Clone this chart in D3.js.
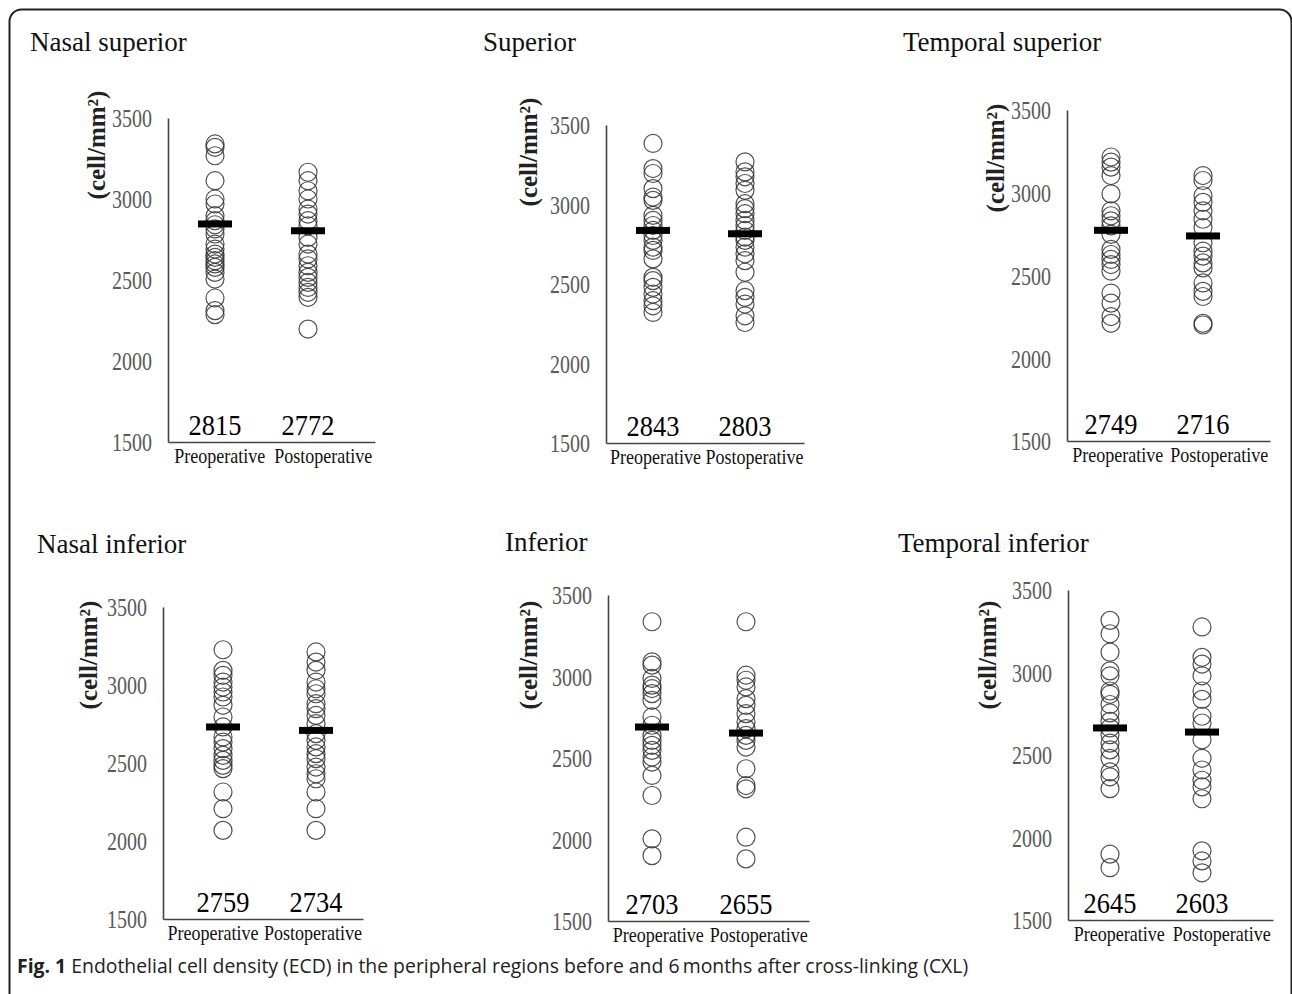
<!DOCTYPE html>
<html>
<head>
<meta charset="utf-8">
<script src="https://cdn.jsdelivr.net/npm/d3@7"></script>
<style>
  body { margin: 0; background: #fff; }
  svg { display: block; }
</style>
</head>
<body>
<svg id="chart" width="1292" height="994"></svg>
<script>
// ECD before / after CXL, six peripheral regions

const categories = ["Preoperative", "Postoperative"];
const regions = ["Nasal superior", "Superior", "Temporal superior",
                 "Nasal inferior", "Inferior", "Temporal inferior"];
const yTicks = [1500, 2000, 2500, 3000, 3500];

// printed means under each column
const meanLabels = [[2815, 2772], [2843, 2803], [2749, 2716],
                    [2759, 2734], [2703, 2655], [2645, 2603]];
// where the thick mean bar sits
const meanBars = [[2846, 2804], [2837, 2816], [2773, 2739],
                  [2731, 2709], [2690, 2653], [2664, 2639]];

// individual eyes, cell/mm2
const nasalSupPre = [3340, 3319, 3267, 3113, 3000, 2969, 2897, 2866, 2841, 2815, 2784, 2722,
  2691, 2660, 2640, 2619, 2599, 2578, 2547, 2506, 2389, 2311, 2286];
const nasalSupPost = [3165, 3113, 3051, 3000, 2938, 2907, 2866, 2835, 2763, 2722, 2660, 2630,
  2588, 2547, 2516, 2485, 2454, 2424, 2393, 2197];
const superiorPre = [3384, 3226, 3195, 3100, 3047, 3026, 2932, 2900, 2868, 2837, 2805, 2774,
  2732, 2711, 2658, 2542, 2521, 2479, 2437, 2395, 2363, 2321];
const superiorPost = [3268, 3205, 3174, 3132, 3089, 3005, 2974, 2942, 2900, 2868, 2837, 2795,
  2774, 2732, 2690, 2647, 2574, 2458, 2416, 2374, 2300, 2258];
const tempSupPre = [3216, 3185, 3155, 3104, 2993, 2891, 2861, 2830, 2800, 2749, 2658, 2627,
  2597, 2566, 2526, 2394, 2333, 2252, 2211];
const tempSupPost = [3104, 3074, 2982, 2942, 2891, 2840, 2790, 2698, 2647, 2617, 2576, 2546,
  2455, 2404, 2373, 2211, 2201];
const nasalInfPre = [3226, 3094, 3062, 3019, 2987, 2955, 2923, 2870, 2795, 2731, 2667, 2634,
  2592, 2549, 2517, 2485, 2464, 2314, 2207, 2068];
const nasalInfPost = [3212, 3147, 3094, 3019, 2976, 2944, 2880, 2848, 2805, 2752, 2688, 2645,
  2603, 2560, 2528, 2474, 2431, 2399, 2314, 2207, 2068];
const inferiorPre = [3336, 3090, 3070, 2988, 2947, 2926, 2895, 2854, 2752, 2701, 2639, 2608,
  2578, 2547, 2506, 2475, 2393, 2270, 2004, 1901];
const inferiorPost = [3336, 3008, 2977, 2936, 2864, 2823, 2772, 2721, 2680, 2639, 2608, 2567,
  2434, 2331, 2311, 2014, 1881];
const tempInfPre = [3316, 3235, 3123, 3010, 2980, 2888, 2868, 2806, 2755, 2704, 2664, 2623,
  2572, 2531, 2480, 2398, 2368, 2296, 1899, 1817];
const tempInfPost = [3276, 3092, 3051, 2980, 2888, 2837, 2735, 2694, 2592, 2480, 2409, 2347,
  2307, 2235, 1919, 1858, 1786];

const series = [
  [nasalSupPre, nasalSupPost], [superiorPre, superiorPost], [tempSupPre, tempSupPost],
  [nasalInfPre, nasalInfPost], [inferiorPre, inferiorPost], [tempInfPre, tempInfPost]
];

// panel placement (pixels)
const layout = [
  { x0: 168,  x1: 375,  top: 118, bot: 442, cx: [215, 308],   tx: 30,  ty: 51,  lx: 96,  ly: 145 },
  { x0: 606,  x1: 804,  top: 125, bot: 443, cx: [653, 745],   tx: 483, ty: 51,  lx: 528, ly: 152 },
  { x0: 1067, x1: 1270, top: 110, bot: 441, cx: [1111, 1203], tx: 903, ty: 51,  lx: 995, ly: 158 },
  { x0: 163,  x1: 363,  top: 607, bot: 919, cx: [223, 316],   tx: 37,  ty: 553, lx: 88,  ly: 655 },
  { x0: 608,  x1: 809,  top: 595, bot: 921, cx: [652, 746],   tx: 505, ty: 551, lx: 528, ly: 655 },
  { x0: 1068, x1: 1273, top: 590, bot: 920, cx: [1110, 1202], tx: 898, ty: 552, lx: 987, ly: 655 }
];

const serif = "'Liberation Serif', 'Times New Roman', serif";
const svg = d3.select("#chart");

// rounded figure frame
svg.append("rect")
  .attr("x", 9.5).attr("y", 9.5)
  .attr("width", 1282).attr("height", 1100)
  .attr("rx", 12)
  .attr("fill", "none")
  .attr("stroke", "#222")
  .attr("stroke-width", 2);

regions.forEach((name, i) => {
  const L = layout[i];
  const g = svg.append("g");

  const y = d3.scaleLinear().domain([1500, 3500]).range([L.bot, L.top]);
  const xPts = d3.scalePoint().domain(categories).range(L.cx);
  const xBand = d3.scaleBand().domain(categories).range([L.x0, L.x1]);

  // title
  g.append("text")
    .attr("x", L.tx).attr("y", L.ty)
    .attr("font-family", serif)
    .attr("font-size", 27)
    .attr("fill", "#111")
    .text(name);

  // y axis label
  g.append("text")
    .attr("transform", `translate(${L.lx},${L.ly}) rotate(-90)`)
    .attr("text-anchor", "middle")
    .attr("dominant-baseline", "central")
    .attr("font-family", serif)
    .attr("font-weight", "bold")
    .attr("font-size", 25)
    .attr("fill", "#222")
    .text("(cell/mm²)");

  // y axis
  const ya = g.append("g")
    .attr("transform", `translate(${L.x0},0)`)
    .call(d3.axisLeft(y).tickValues(yTicks).tickFormat(d3.format("d"))
      .tickSize(0).tickSizeOuter(0));
  ya.select(".domain").attr("stroke", "#444").attr("stroke-width", 1.6);
  ya.selectAll("text")
    .attr("x", 0)
    .attr("dy", "0.35em")
    .attr("transform", "translate(-16,0) scale(0.8,1)")
    .attr("font-family", serif)
    .attr("font-size", 25)
    .attr("fill", "#5a5a5a");

  // x axis
  const xa = g.append("g")
    .attr("transform", `translate(0,${L.bot})`)
    .call(d3.axisBottom(xBand).tickSize(0).tickSizeOuter(0));
  xa.select(".domain").attr("stroke", "#444").attr("stroke-width", 1.6);
  xa.selectAll("text")
    .attr("y", 0)
    .attr("dy", null)
    .attr("transform", "translate(0,21) scale(0.82,1)")
    .attr("font-family", serif)
    .attr("font-size", 22)
    .attr("fill", "#111");

  // points
  categories.forEach((c, j) => {
    g.append("g").selectAll("circle")
      .data(series[i][j])
      .join("circle")
      .attr("cx", xPts(c))
      .attr("cy", d => y(d))
      .attr("r", 9)
      .attr("fill", "none")
      .attr("stroke", "#333")
      .attr("stroke-opacity", 0.85)
      .attr("stroke-width", 1.2);
  });

  // mean bars
  g.append("g").selectAll("rect")
    .data(categories)
    .join("rect")
    .attr("x", c => xPts(c) - 17)
    .attr("y", (c, j) => y(meanBars[i][j]) - 3.5)
    .attr("width", 34)
    .attr("height", 7)
    .attr("fill", "#000");

  // printed means
  g.append("g").selectAll("text")
    .data(categories)
    .join("text")
    .attr("transform", c => `translate(${xPts(c)},${L.bot - 7}) scale(0.88,1)`)
    .attr("text-anchor", "middle")
    .attr("font-family", serif)
    .attr("font-size", 30)
    .attr("fill", "#000")
    .text((c, j) => meanLabels[i][j]);
});

// caption
const cap = svg.append("text")
  .attr("x", 17).attr("y", 973)
  .attr("font-family", "'Open Sans', 'Noto Sans', sans-serif")
  .attr("font-size", 19.4)
  .attr("fill", "#222");
cap.append("tspan").attr("font-weight", "bold").text("Fig. 1");
cap.append("tspan").text(" Endothelial cell density (ECD) in the peripheral regions before and 6\u2009months after cross-linking (CXL)");
</script>
</body>
</html>
